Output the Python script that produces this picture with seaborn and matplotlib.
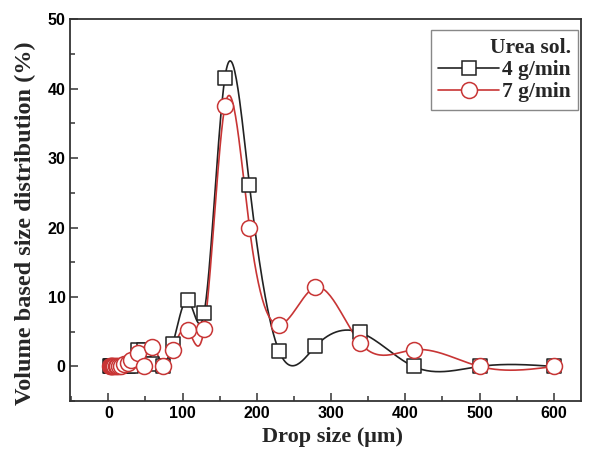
import numpy as np
import pandas as pd
import matplotlib
matplotlib.use("Agg")
import matplotlib.pyplot as plt
from matplotlib.lines import Line2D
from matplotlib.ticker import MultipleLocator
import seaborn as sns

# ── Data ─────────────────────────────────────────────────────────────────────
drop_size = [2, 3, 4, 5, 6.5, 8, 10, 12, 14.5, 17.5, 21.5, 26, 31, 40, 48, 59,
             73, 87, 107, 129, 157, 190, 230, 279, 339, 411, 500, 600]
rate_4 = [0, 0, 0, 0, 0, 0, 0, 0, 0, 0, 0, 0, 0, 2.3, 2.3, 0.3,
          0, 3.3, 9.6, 7.7, 41.6, 26.2, 2.2, 2.9, 4.9, 0, 0, 0]
rate_7 = [0, 0, 0, 0, 0, 0, 0, 0, 0, 0, 0.4, 0.5, 0.9, 2.0, 0, 2.8,
          0, 2.4, 5.2, 5.4, 37.5, 20.0, 6.0, 11.4, 3.4, 2.4, 0, 0]
series_labels = ["4 g/min", "7 g/min"]

BLACK = "#222222"
RED = "#c83535"


def natural_spline(x, y, per_seg=30):
    """Natural cubic spline through the points (for the smooth connecting line)."""
    x = np.asarray(x, float)
    y = np.asarray(y, float)
    n = len(x)
    h = np.diff(x)
    A = np.zeros((n, n))
    b = np.zeros(n)
    A[0, 0] = A[-1, -1] = 1.0
    for i in range(1, n - 1):
        A[i, i - 1] = h[i - 1]
        A[i, i] = 2 * (h[i - 1] + h[i])
        A[i, i + 1] = h[i]
        b[i] = 6 * ((y[i + 1] - y[i]) / h[i] - (y[i] - y[i - 1]) / h[i - 1])
    M = np.linalg.solve(A, b)
    xs, ys = [], []
    for i in range(n - 1):
        t = np.linspace(x[i], x[i + 1], per_seg, endpoint=(i == n - 2))
        a = x[i + 1] - t
        c = t - x[i]
        s = (M[i] * a**3 + M[i + 1] * c**3) / (6 * h[i]) \
            + (y[i] / h[i] - M[i] * h[i] / 6) * a \
            + (y[i + 1] / h[i] - M[i + 1] * h[i] / 6) * c
        xs.append(t)
        ys.append(s)
    return np.concatenate(xs), np.concatenate(ys)


sns.set_style("ticks")
plt.rcParams["font.family"] = ["Liberation Sans", "DejaVu Sans"]

fig, ax = plt.subplots(figsize=(5.92, 4.59), dpi=100)
fig.subplots_adjust(left=0.119, right=0.982, bottom=0.126, top=0.958)

styles = [
    (rate_4, BLACK, "s", 10.0),
    (rate_7, RED, "o", 11.5),
]
for vals, color, marker, ms in styles:
    sx, sy = natural_spline(drop_size, vals)
    curve = pd.DataFrame({"x": sx, "y": sy})
    sns.lineplot(data=curve, x="x", y="y", ax=ax, color=color, lw=1.2,
                 sort=False, estimator=None, zorder=2)
    pts = pd.DataFrame({"x": drop_size, "y": vals})
    sns.scatterplot(data=pts, x="x", y="y", ax=ax, marker=marker,
                    s=ms**2, facecolor="white", edgecolor=color,
                    linewidth=1.1, zorder=3)

ax.set_xlim(-51, 637)
ax.set_ylim(-5, 50)
ax.xaxis.set_major_locator(MultipleLocator(100))
ax.xaxis.set_minor_locator(MultipleLocator(50))
ax.yaxis.set_major_locator(MultipleLocator(10))
ax.yaxis.set_minor_locator(MultipleLocator(5))
ax.tick_params(which="both", direction="in", colors="#333333",
               labelcolor="black", width=1.1)
ax.tick_params(which="major", length=6, labelsize=11.5)
ax.tick_params(which="minor", length=3.5)
for lab in ax.get_xticklabels() + ax.get_yticklabels():
    lab.set_fontweight("bold")
for sp in ax.spines.values():
    sp.set_color("#333333")
    sp.set_linewidth(1.3)

serif = {"family": ["Liberation Serif", "DejaVu Serif"], "weight": "bold"}
ax.set_xlabel("Drop size (\u03bcm)", fontdict=dict(serif, size=16))
ax.set_ylabel("Volume based size distribution (%)",
              fontdict=dict(serif, size=17.5))
ax.xaxis.set_label_coords(0.513, -0.068)
ax.yaxis.set_label_coords(-0.068, 0.466)

handles = [
    Line2D([], [], color=BLACK, lw=1.2, marker="s", markersize=10,
           markerfacecolor="white", markeredgecolor=BLACK, markeredgewidth=1.1),
    Line2D([], [], color=RED, lw=1.2, marker="o", markersize=11.5,
           markerfacecolor="white", markeredgecolor=RED, markeredgewidth=1.1),
]
leg = ax.legend(handles, series_labels, title="Urea sol.",
                loc="upper right", bbox_to_anchor=(0.994, 0.971),
                borderaxespad=0, fancybox=False, framealpha=1,
                edgecolor="#888888", handlelength=2.8, handletextpad=0.15,
                labelspacing=0.1, borderpad=0.35, alignment="right",
                prop=dict(serif, size=15.5),
                title_fontproperties=dict(serif, size=15.5))
leg.get_frame().set_linewidth(1.0)

fig.savefig("out.png", dpi=100)
